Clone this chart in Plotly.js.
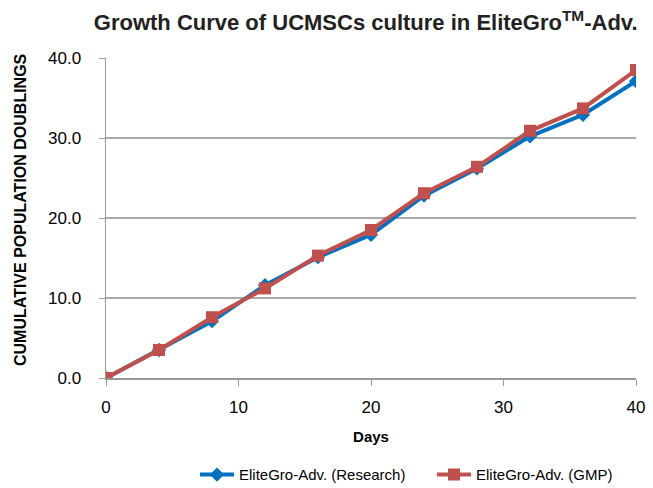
<!DOCTYPE html>
<html>
<head>
<meta charset="utf-8">
<script src="https://cdn.plot.ly/plotly-3.0.1.min.js"></script>
<style>html,body{margin:0;padding:0;background:#fff}#chart{width:653px;height:488px}</style>
</head>
<body>
<div id="chart"></div>
<script>
const days = [0, 4, 8, 12, 16, 20, 24, 28, 32, 36, 40];
const researchPD = [0, 3.5, 7.1, 11.6, 15.1, 17.9, 22.8, 26.2, 30.2, 32.9, 37.1];
const gmpPD = [0, 3.5, 7.6, 11.2, 15.3, 18.5, 23.1, 26.4, 30.9, 33.7, 38.5];
const seriesNames = ["EliteGro-Adv. (Research)", "EliteGro-Adv. (GMP)"];
const yTitle = "CUMULATIVE POPULATION DOUBLINGS";

const traces = [
  {x: days, y: researchPD, name: seriesNames[0], type: 'scatter', mode: 'lines+markers', legend: 'legend',
   line: {color: '#0070C0', width: 4}, marker: {symbol: 'diamond', size: 11, color: '#0070C0'}},
  {x: days, y: gmpPD, name: seriesNames[1], type: 'scatter', mode: 'lines+markers', legend: 'legend2',
   line: {color: '#C0504D', width: 4}, marker: {symbol: 'square', size: 12, color: '#C0504D'}}
];

const legendStyle = {orientation: 'h', xref: 'container', xanchor: 'left',
  yref: 'container', y: 0.027, yanchor: 'middle',
  font: {size: 15}, itemwidth: 34, bgcolor: 'rgba(0,0,0,0)'};

const layout = {
  width: 653, height: 488,
  margin: {l: 106, r: 17, t: 58, b: 110},
  paper_bgcolor: '#fff', plot_bgcolor: '#fff',
  font: {family: 'Liberation Sans, Arial, sans-serif', color: '#000'},
  title: {text: '<b>Growth Curve of UCMSCs culture in EliteGro<sup>TM</sup>-Adv.</b>',
          font: {size: 22, color: '#222'}, x: 0.56, xanchor: 'center', y: 0.97, yanchor: 'top'},
  xaxis: {range: [0, 40], dtick: 10, tick0: 0, showgrid: false, zeroline: false, automargin: false,
          showline: true, linecolor: '#999', linewidth: 1.5,
          ticks: 'outside', ticklen: 6, tickcolor: '#999', ticklabelstandoff: 7,
          tickfont: {size: 17}, title: {text: '<b>Days</b>', font: {size: 15}, standoff: 15}},
  yaxis: {range: [0, 40], dtick: 10, tick0: 0, tickformat: '.1f', showgrid: true, automargin: false,
          gridcolor: '#aaa', gridwidth: 1.5, zeroline: false,
          showline: true, linecolor: '#999', linewidth: 1.5,
          ticks: 'outside', ticklen: 6, tickcolor: '#999', ticklabelstandoff: 14,
          tickfont: {size: 17}},
  annotations: [{text: '<b>' + yTitle + '</b>', textangle: -90, showarrow: false,
                 xref: 'paper', x: (20 - 106) / 530, xanchor: 'center',
                 yref: 'paper', y: (378 - 210) / 320, yanchor: 'middle',
                 font: {size: 16, color: '#000'}}],
  showlegend: true,
  legend: Object.assign({}, legendStyle, {x: 0.2986}),
  legend2: Object.assign({}, legendStyle, {x: 0.6616})
};

Plotly.newPlot('chart', traces, layout, {displayModeBar: false, staticPlot: true});
</script>
</body>
</html>
